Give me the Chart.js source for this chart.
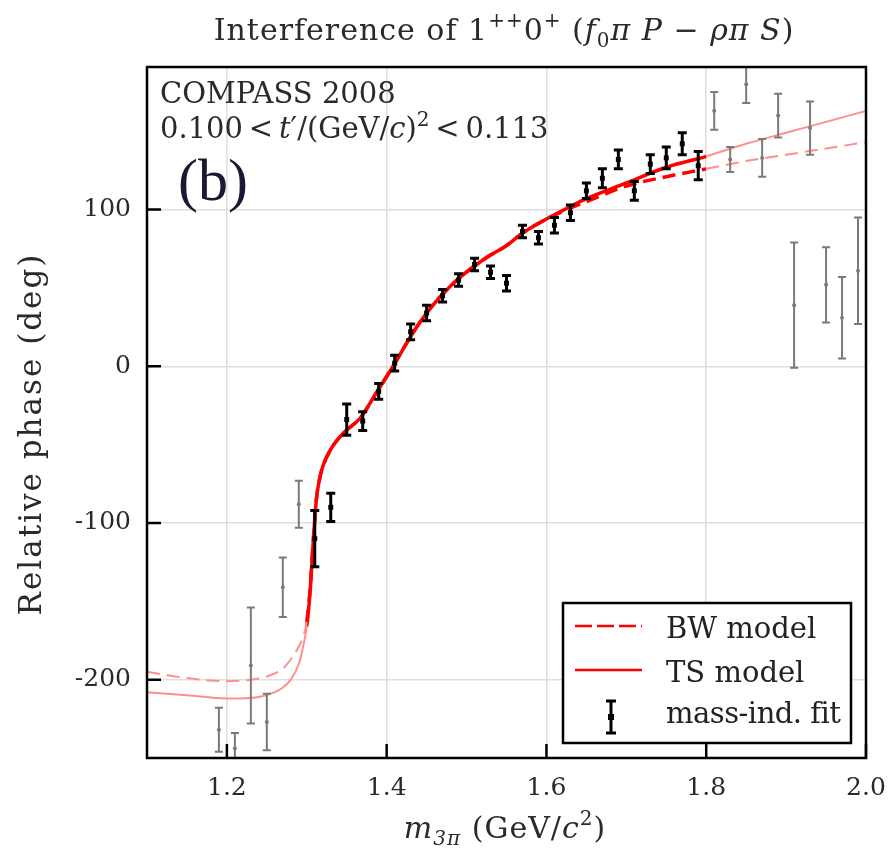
<!DOCTYPE html>
<html lang="en">
<head>
    <meta charset="UTF-8">
    <title>Interference of 1++0+</title>
    <script src="https://cdn.jsdelivr.net/npm/chart.js"></script>
    <style>
        body { margin: 0; background: #fff; }
        canvas { display: block; }
    </style>
</head>
<body>
    <canvas id="grafico" width="894" height="850"></canvas>

<script>
    // mass-independent fit points inside the fit range (black)
    var fitMass = [1.31, 1.33, 1.35, 1.37, 1.39, 1.41, 1.43, 1.45, 1.47, 1.49, 1.51, 1.53, 1.55,
        1.57, 1.59, 1.61, 1.63, 1.65, 1.67, 1.69, 1.71, 1.73, 1.75, 1.77, 1.79];
    var fitPhase = [-110, -90, -34, -35, -16, 2, 22, 34, 45, 55, 65, 60, 53,
        86, 82, 90, 98, 112, 120, 132, 112, 129, 133, 142, 128];
    var fitErr = [18, 9, 10, 6, 5, 5, 5, 5, 4, 4, 4, 4, 5,
        4, 4, 5, 5, 5, 6, 6, 6, 6, 7, 7, 9];

    // points outside the fit range (gray)
    var outMass = [1.19, 1.21, 1.23, 1.25, 1.27, 1.29, 1.81, 1.83, 1.85, 1.87, 1.89, 1.91, 1.93, 1.95, 1.97, 1.99];
    var outPhase = [-232, -244, -191, -227, -141, -88, 163, 132, 180, 133, 160, 39, 152, 52, 31, 61];
    var outErr = [14, 10, 37, 18, 19, 15, 12, 8, 12, 12, 14, 40, 17, 24, 26, 34];

    // model curves
    var tsMass = [1.10, 1.15, 1.20, 1.24, 1.26, 1.27, 1.28, 1.29, 1.295, 1.30, 1.304, 1.308, 1.312, 1.316, 1.32,
        1.33, 1.345, 1.367, 1.387, 1.408, 1.43, 1.45, 1.47, 1.49, 1.51, 1.53, 1.55, 1.57, 1.60, 1.63, 1.65,
        1.70, 1.75, 1.80, 1.85, 1.90, 1.95, 2.00];
    var tsPhase = [-208, -210, -212, -211, -208, -205, -200, -190, -180, -166, -145, -113, -85, -72, -64,
        -53, -43, -33, -17, 0, 19, 34, 46, 56, 64, 71, 77, 85, 94, 102, 107,
        117, 127, 134, 142, 149, 156, 163];
    var bwMass = [1.10, 1.15, 1.20, 1.23, 1.25, 1.27, 1.28, 1.29, 1.295, 1.30, 1.304, 1.308, 1.312, 1.316, 1.32,
        1.33, 1.345, 1.367, 1.387, 1.408, 1.43, 1.45, 1.47, 1.49, 1.51, 1.53, 1.55, 1.57, 1.60, 1.63, 1.65,
        1.70, 1.75, 1.80, 1.85, 1.90, 1.95, 2.00];
    var bwPhase = [-195, -199, -201, -200, -198, -193, -187, -179, -173, -163, -143, -112, -85, -72, -64,
        -53, -43, -33, -17, 0, 19, 34, 46, 56, 64, 71, 77, 85, 94, 101, 105,
        115, 121, 126, 131, 135, 139, 143];

    var xTicks = [1.2, 1.4, 1.6, 1.8, 2.0];
    var yTicks = [-200, -100, 0, 100];

    var fitLo = 1.3, fitHi = 1.8;
    var SERIF = '"DejaVu Serif", serif';

    function pares(xs, ys) {
        return xs.map(function (x, i) { return { x: x, y: ys[i] }; });
    }

    function dentroFit(ctx) {
        return ctx.p0.parsed.x >= fitLo - 1e-9 && ctx.p1.parsed.x <= fitHi + 1e-9;
    }

    function fonte(p, size) {
        var s = p.s ? Math.round(size * 0.68) : size;
        return (p.i ? 'italic ' : '') + s + 'px ' + SERIF;
    }

    // texto com italico / sobrescrito / subscrito
    function textoRico(ctx, parts, x, y, size, align) {
        var w = 0;
        parts.forEach(function (p) { ctx.font = fonte(p, size); w += ctx.measureText(p.t).width; });
        var cx = align === 'center' ? x - w / 2 : x;
        ctx.textAlign = 'left';
        ctx.textBaseline = 'alphabetic';
        parts.forEach(function (p) {
            ctx.font = fonte(p, size);
            var dy = p.s === 'sup' ? -size * 0.42 : (p.s === 'sub' ? size * 0.22 : 0);
            ctx.fillText(p.t, cx, y + dy);
            cx += ctx.measureText(p.t).width;
        });
    }

    function erros(ctx, xs, ys, m, ph, er, cor, lw, cap) {
        ctx.strokeStyle = cor;
        ctx.lineWidth = lw;
        for (var i = 0; i < m.length; i++) {
            var x = xs.getPixelForValue(m[i]);
            var y1 = ys.getPixelForValue(ph[i] + er[i]);
            var y2 = ys.getPixelForValue(ph[i] - er[i]);
            ctx.beginPath();
            ctx.moveTo(x, y1); ctx.lineTo(x, y2);
            ctx.moveTo(x - cap, y1); ctx.lineTo(x + cap, y1);
            ctx.moveTo(x - cap, y2); ctx.lineTo(x + cap, y2);
            ctx.stroke();
        }
    }

    var extras = {
        id: 'extras',
        afterDatasetsDraw: function (chart) {
            var ctx = chart.ctx, a = chart.chartArea;
            ctx.save();
            ctx.beginPath();
            ctx.rect(a.left, a.top, a.right - a.left, a.bottom - a.top);
            ctx.clip();
            erros(ctx, chart.scales.x, chart.scales.y, outMass, outPhase, outErr, '#7a7a7a', 2, 4);
            erros(ctx, chart.scales.x, chart.scales.y, fitMass, fitPhase, fitErr, '#000', 3, 4.5);
            ctx.restore();
        },
        afterDraw: function (chart) {
            var ctx = chart.ctx, a = chart.chartArea, xs = chart.scales.x, ys = chart.scales.y;
            ctx.save();

            // moldura e ticks para dentro
            ctx.strokeStyle = '#000';
            ctx.lineWidth = 2.5;
            ctx.strokeRect(a.left, a.top, a.right - a.left, a.bottom - a.top);
            ctx.beginPath();
            xTicks.forEach(function (v) {
                var x = xs.getPixelForValue(v);
                ctx.moveTo(x, a.bottom); ctx.lineTo(x, a.bottom - 14);
            });
            yTicks.forEach(function (v) {
                var y = ys.getPixelForValue(v);
                ctx.moveTo(a.left, y); ctx.lineTo(a.left + 14, y);
            });
            ctx.stroke();

            // legenda
            var lx = 563, ly = 603;
            ctx.fillStyle = '#fff';
            ctx.fillRect(lx, ly, 288, 140);
            ctx.strokeRect(lx, ly, 288, 140);
            ctx.strokeStyle = '#ff0000';
            ctx.lineWidth = 2.5;
            ctx.setLineDash([17, 5]);
            ctx.beginPath(); ctx.moveTo(575, 626); ctx.lineTo(642, 626); ctx.stroke();
            ctx.setLineDash([]);
            ctx.beginPath(); ctx.moveTo(575, 670); ctx.lineTo(642, 670); ctx.stroke();
            ctx.strokeStyle = '#000';
            ctx.lineWidth = 3;
            ctx.beginPath();
            ctx.moveTo(611, 701); ctx.lineTo(611, 733);
            ctx.moveTo(606, 701); ctx.lineTo(616, 701);
            ctx.moveTo(606, 733); ctx.lineTo(616, 733);
            ctx.stroke();
            ctx.fillStyle = '#000';
            ctx.fillRect(608, 714, 6, 6);

            ctx.fillStyle = '#222';
            ctx.font = '29px ' + SERIF;
            ctx.textAlign = 'left';
            ctx.textBaseline = 'alphabetic';
            ctx.fillText('BW model', 666, 638);
            ctx.fillText('TS model', 666, 682);
            ctx.letterSpacing = '-0.5px';
            ctx.fillText('mass-ind. fit', 666, 723);
            ctx.letterSpacing = '0px';

            // titulo
            ctx.fillStyle = '#2a2a2a';
            ctx.letterSpacing = '1px';
            textoRico(ctx, [
                { t: 'Interference of 1' }, { t: '++', s: 'sup' }, { t: '0' }, { t: '+', s: 'sup' },
                { t: ' (' }, { t: 'f', i: 1 }, { t: '0', s: 'sub' }, { t: 'π P', i: 1 },
                { t: ' − ' }, { t: 'ρπ S', i: 1 }, { t: ')' }
            ], 504, 40, 30, 'center');
            ctx.letterSpacing = '0px';

            // anotacoes
            ctx.font = '29px ' + SERIF;
            ctx.fillText('COMPASS 2008', 160, 103);
            textoRico(ctx, [
                { t: '0.100\u2009<\u2009' }, { t: 't', i: 1 }, { t: '′/(GeV/' }, { t: 'c', i: 1 }, { t: ')' },
                { t: '2', s: 'sup' }, { t: '\u2009<\u20090.113' }
            ], 160, 138, 29, 'left');

            ctx.fillStyle = '#171a30';
            ctx.font = '60px "Liberation Serif", serif';
            ctx.fillText('(b)', 178, 200);

            // titulos dos eixos
            ctx.fillStyle = '#2a2a2a';
            ctx.letterSpacing = '1px';
            textoRico(ctx, [
                { t: 'm', i: 1 }, { t: '3π', s: 'sub', i: 1 }, { t: ' (GeV/' }, { t: 'c', i: 1 },
                { t: '2', s: 'sup' }, { t: ')' }
            ], 505, 838, 30, 'center');

            ctx.translate(41, 434);
            ctx.rotate(-Math.PI / 2);
            ctx.letterSpacing = '2px';
            ctx.font = '31px ' + SERIF;
            ctx.textAlign = 'center';
            ctx.fillText('Relative phase (deg)', 0, 0);

            ctx.restore();
        }
    };

    var ctx = document.getElementById('grafico').getContext('2d');
    var grafico = new Chart(ctx, {
        type: 'scatter',
        data: {
            datasets: [
                {
                    label: 'mass-ind. fit',
                    data: pares(fitMass, fitPhase),
                    pointStyle: 'rect',
                    pointRadius: 3.5,
                    backgroundColor: '#000',
                    borderColor: '#000',
                    borderWidth: 0
                },
                {
                    label: 'outside fit range',
                    data: pares(outMass, outPhase),
                    pointStyle: 'circle',
                    pointRadius: 2,
                    backgroundColor: '#7a7a7a',
                    borderColor: '#7a7a7a',
                    borderWidth: 0
                },
                {
                    label: 'BW model',
                    data: pares(bwMass, bwPhase),
                    showLine: true,
                    pointRadius: 0,
                    borderDash: [13, 7],
                    cubicInterpolationMode: 'monotone',
                    borderColor: '#ff0000',
                    segment: {
                        borderColor: function (c) { return dentroFit(c) ? '#ff0000' : '#ff8f8f'; },
                        borderWidth: function (c) { return dentroFit(c) ? 3.5 : 2; }
                    }
                },
                {
                    label: 'TS model',
                    data: pares(tsMass, tsPhase),
                    showLine: true,
                    pointRadius: 0,
                    cubicInterpolationMode: 'monotone',
                    borderColor: '#ff0000',
                    segment: {
                        borderColor: function (c) { return dentroFit(c) ? '#ff0000' : '#ff8f8f'; },
                        borderWidth: function (c) { return dentroFit(c) ? 3.5 : 2; }
                    }
                }
            ]
        },
        options: {
            responsive: false,
            animation: false,
            layout: { padding: { top: 67, right: 28, left: 0, bottom: 0 } },
            plugins: {
                legend: { display: false },
                tooltip: { enabled: false },
                title: { display: false }
            },
            scales: {
                x: {
                    type: 'linear',
                    min: 1.1,
                    max: 2.0,
                    afterBuildTicks: function (s) { s.ticks = xTicks.map(function (v) { return { value: v }; }); },
                    afterFit: function (s) { s.height = 92; s.paddingLeft = 0; s.paddingRight = 0; },
                    ticks: {
                        padding: 15,
                        color: '#2a2a2a',
                        font: { family: SERIF, size: 25 },
                        callback: function (v) { return v.toFixed(1); }
                    },
                    grid: { color: '#dedede', lineWidth: 1.5, drawTicks: false },
                    border: { display: false }
                },
                y: {
                    type: 'linear',
                    min: -250,
                    max: 191,
                    afterBuildTicks: function (s) { s.ticks = yTicks.map(function (v) { return { value: v }; }); },
                    afterFit: function (s) { s.width = 147; },
                    ticks: {
                        padding: 16,
                        color: '#2a2a2a',
                        font: { family: SERIF, size: 25 },
                        callback: function (v) { return String(v); }
                    },
                    grid: { color: '#dedede', lineWidth: 1.5, drawTicks: false },
                    border: { display: false }
                }
            }
        },
        plugins: [extras]
    });
</script>
</body>
</html>
